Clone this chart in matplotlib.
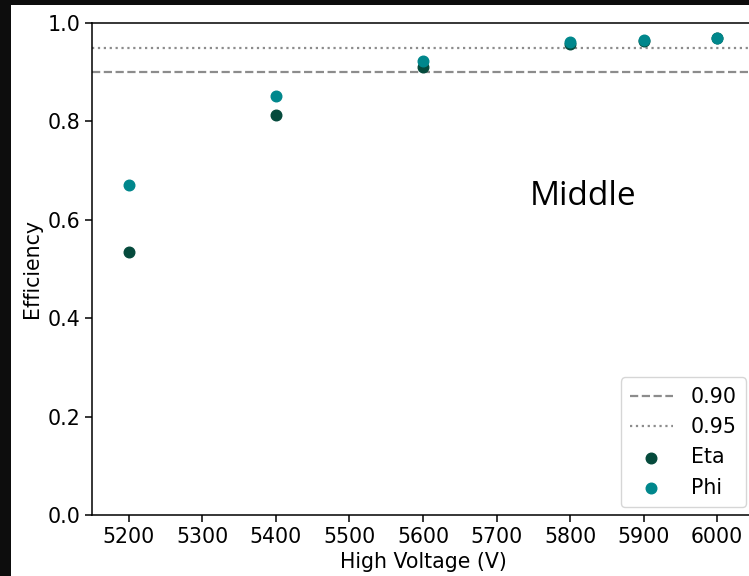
import matplotlib
matplotlib.use("Agg")
import matplotlib.pyplot as plt
from matplotlib.patches import Rectangle

# ---------------------------
# Data
# ---------------------------
voltages = [5200, 5400, 5600, 5800, 5900, 6000]
eta_eff = [0.535, 0.812, 0.911, 0.958, 0.964, 0.969]
phi_eff = [0.671, 0.852, 0.923, 0.961, 0.965, 0.970]
thresholds = [0.90, 0.95]
threshold_labels = ["0.90", "0.95"]
xticks = [5200, 5300, 5400, 5500, 5600, 5700, 5800, 5900, 6000]

plt.rcParams.update({
    "font.family": "DejaVu Sans",
    "font.size": 14.8,
    "axes.linewidth": 1.1,
    "xtick.major.width": 1.1,
    "ytick.major.width": 1.1,
    "xtick.major.size": 4.9,
    "ytick.major.size": 4.9,
})

fig = plt.figure(figsize=(7.49, 5.76), dpi=100)
fig.patch.set_facecolor("#0d0d0d")
# white canvas of the cropped screenshot
fig.add_artist(Rectangle((11 / 749, 0), 1, (576 - 5) / 576,
                         transform=fig.transFigure, facecolor="white",
                         edgecolor="none", zorder=-10))

ax = fig.add_axes([92 / 749, 1 - 515 / 576, 662 / 749, 492 / 576])

ax.axhline(thresholds[0], color="#8c8c8c", linestyle="--", linewidth=1.6,
           label=threshold_labels[0])
ax.axhline(thresholds[1], color="#8c8c8c", linestyle=":", linewidth=1.6,
           label=threshold_labels[1])
ax.scatter(voltages, eta_eff, s=58, color="#054a3c", label="Eta", zorder=3)
ax.scatter(voltages, phi_eff, s=58, color="#00878c", label="Phi", zorder=3)

ax.text(5818, 0.648, "Middle", fontsize=24, family="Open Sans",
        ha="center", va="center")

ax.set_xlim(5150, 6050)
ax.set_ylim(0.0, 1.0)
ax.set_xticks(xticks)
ax.set_xlabel("High Voltage (V)")
ax.set_ylabel("Efficiency")

ax.legend(loc="lower right", handlelength=2.1, handletextpad=0.85,
          borderpad=0.45, borderaxespad=0.4)

fig.savefig("out.png", dpi=100, facecolor=fig.get_facecolor())
